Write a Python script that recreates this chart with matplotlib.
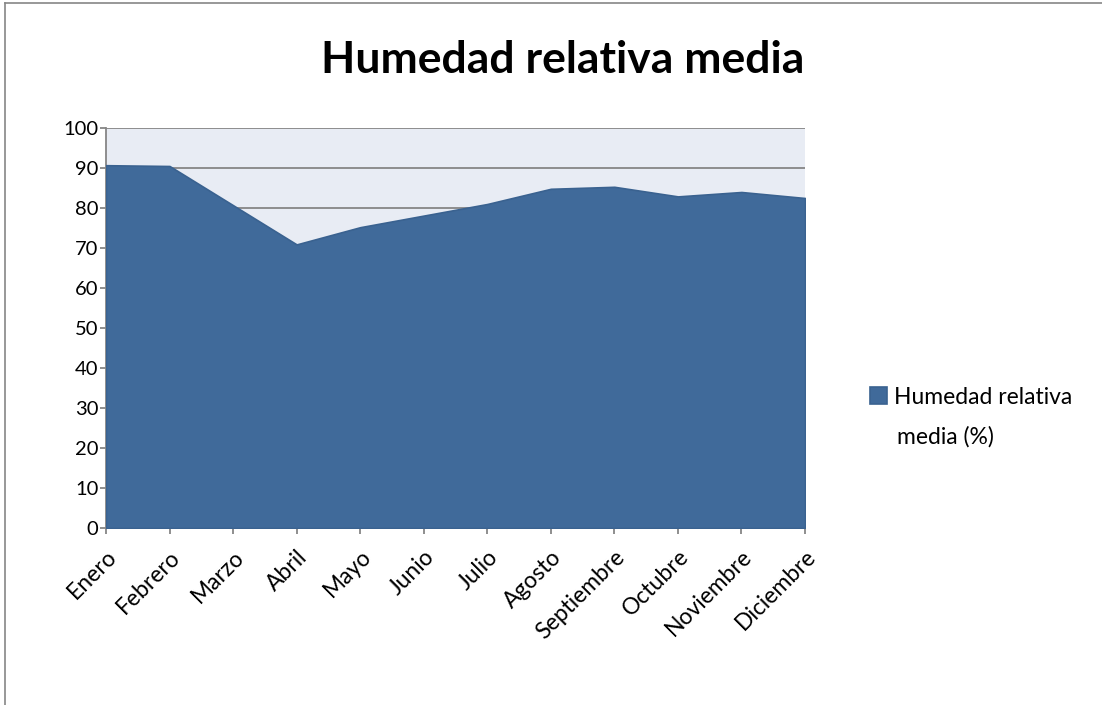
import matplotlib
matplotlib.use('Agg')
import matplotlib.pyplot as plt
from matplotlib.lines import Line2D

meses = ['Enero', 'Febrero', 'Marzo', 'Abril', 'Mayo', 'Junio', 'Julio',
         'Agosto', 'Septiembre', 'Octubre', 'Noviembre', 'Diciembre']
humedad = [90.7, 90.5, 80.7, 70.9, 75.2, 78.1, 81.0, 84.8, 85.3, 82.9, 84.0, 82.5]
yticks = [0, 10, 20, 30, 40, 50, 60, 70, 80, 90, 100]
serie = 'Humedad relativa media (%)'

plt.rcParams['font.family'] = ['Lato', 'DejaVu Sans']

W, H = 1102, 705
fig = plt.figure(figsize=(W / 100, H / 100), dpi=100)
fig.patch.set_facecolor('white')

# plot area in pixels: x 106-805, y 128-528
ax = fig.add_axes([106 / W, 1 - 528 / H, (805 - 106) / W, (528 - 128) / H])
ax.set_facecolor('#E8ECF4')

x = list(range(len(meses)))
ax.fill_between(x, 0, humedad, color='#406A9A', edgecolor='#3A6290', linewidth=1.2,
                zorder=3, label=serie)

ax.set_xlim(0, len(meses) - 1)
ax.set_ylim(0, 100)
ax.set_yticks(yticks)
ax.set_yticklabels([str(v) for v in yticks], fontsize=14.5)
ax.set_xticks(x)
ax.set_xticklabels(meses, fontsize=16.5, rotation=45, ha='right', rotation_mode='anchor')
ax.grid(axis='y', color='#868686', linewidth=1.3, zorder=1)
ax.set_axisbelow(True)

for s in ['top', 'right']:
    ax.spines[s].set_visible(False)
for s in ['left', 'bottom']:
    ax.spines[s].set_color('#868686')
    ax.spines[s].set_linewidth(1.3)
ax.tick_params(axis='both', colors='#868686', labelcolor='black', length=4, width=1.3)
ax.tick_params(axis='x', pad=9)
ax.tick_params(axis='y', pad=1.5)

fig.text(563 / W, 1 - 60 / H, 'Humedad relativa media', fontsize=32, fontweight='bold',
         ha='center', va='center')

# legend: Excel wraps the series name over two lines
linea1, linea2 = 'Humedad relativa', 'media (%)'
leg = ax.legend([ax.collections[0]], [linea1], loc='center left',
                bbox_to_anchor=(870 / W, 1 - 397 / H), bbox_transform=fig.transFigure,
                frameon=False, fontsize=16.5, handlelength=0.75, handleheight=0.75,
                handletextpad=0.3, borderpad=0, borderaxespad=0)
fig.text(897 / W, 1 - 437 / H, linea2, fontsize=16.5, ha='left', va='center')

# outer chart border (left and top)
fig.add_artist(Line2D([5 / W, 5 / W], [0, 1 - 3 / H], color='#868686', linewidth=1.2))
fig.add_artist(Line2D([5 / W, 1], [1 - 3 / H, 1 - 3 / H], color='#868686', linewidth=1.2))

fig.savefig('out.png', dpi=100, facecolor='white')
